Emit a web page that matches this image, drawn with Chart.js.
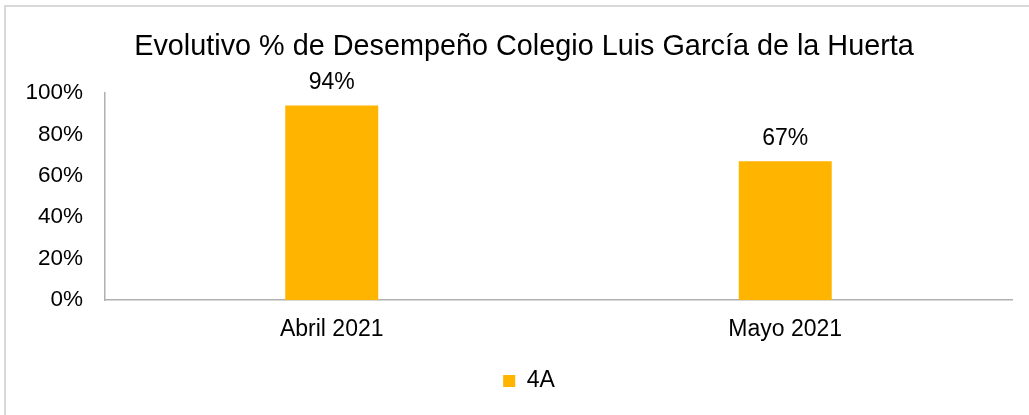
<!DOCTYPE html>
<html>
<head>
<meta charset="utf-8">
<script src="https://cdn.jsdelivr.net/npm/chart.js@4.4.1/dist/chart.umd.min.js"></script>
<style>
  html, body { margin: 0; padding: 0; background: #fff; overflow: hidden; }
  #wrap { position: relative; width: 1029px; height: 415px; }
  #frame { position: absolute; left: 4px; top: 5px; width: 1200px; height: 600px;
           border-left: 2px solid #d9d9d9; border-top: 2px solid #d9d9d9; z-index: 0; }
  canvas { position: absolute; left: 0; top: 0; z-index: 1; }
</style>
</head>
<body>
<div id="wrap">
  <div id="frame"></div>
  <canvas id="c" width="1029" height="415"></canvas>
</div>
<script>
const titleText = 'Evolutivo % de Desempeño Colegio Luis García de la Huerta';
const categories = ['Abril 2021', 'Mayo 2021'];
const seriesName = '4A';
const values = [94, 67];
const yTicks = [0, 20, 40, 60, 80, 100];

const FONT = "'Liberation Sans', Arial, sans-serif";

const valueLabels = {
  id: 'valueLabels',
  afterDatasetsDraw(chart) {
    const ctx = chart.ctx;
    ctx.save();
    ctx.font = '23px ' + FONT;
    ctx.fillStyle = '#000';
    ctx.textAlign = 'center';
    ctx.textBaseline = 'middle';
    chart.getDatasetMeta(0).data.forEach((bar, i) => {
      ctx.fillText(values[i] + '%', bar.x, bar.y - 23);
    });
    ctx.restore();
  }
};

// Shift title and legend horizontally so they are centred like the reference
const shiftBoxes = {
  id: 'shiftBoxes',
  afterLayout(chart) {
    if (chart.titleBlock) { chart.titleBlock.left += 18; chart.titleBlock.right += 18; }
    if (chart.legend) { chart.legend.left += 23; chart.legend.right += 23; }
  }
};

new Chart(document.getElementById('c'), {
  type: 'bar',
  data: {
    labels: categories,
    datasets: [{
      label: seriesName,
      data: values,
      backgroundColor: '#FFB400',
      borderWidth: 0,
      barPercentage: 0.205,
      categoryPercentage: 1.0
    }]
  },
  options: {
    responsive: false,
    animation: false,
    devicePixelRatio: 1,
    layout: { padding: { left: 0, right: 17, top: 0, bottom: 12.5 } },
    plugins: {
      title: {
        display: true,
        text: titleText,
        color: '#000',
        font: { family: FONT, size: 28.8, weight: 'normal' },
        padding: { top: 30, bottom: 28.5 }
      },
      legend: {
        display: true,
        position: 'bottom',
        labels: {
          boxWidth: 12,
          boxHeight: 12,
          padding: 10,
          color: '#000',
          font: { family: FONT, size: 23 }
        }
      },
      tooltip: { enabled: false }
    },
    scales: {
      x: {
        grid: { display: false, drawTicks: false },
        border: { display: true, color: '#b0b0b0', width: 1.5 },
        ticks: { color: '#000', font: { family: FONT, size: 23 }, padding: 16, maxRotation: 0 },
        afterFit(scale) { scale.height = 59.5; }
      },
      y: {
        min: 0,
        max: 100,
        grid: { display: false, drawTicks: false },
        border: { display: true, color: '#b0b0b0', width: 1.5 },
        afterBuildTicks(scale) { scale.ticks = yTicks.map(v => ({ value: v })); },
        ticks: {
          color: '#000',
          font: { family: FONT, size: 22.5 },
          padding: 22,
          callback: v => v + '%'
        },
        afterFit(scale) { scale.width = 105; }
      }
    }
  },
  plugins: [valueLabels, shiftBoxes]
});
</script>
</body>
</html>
